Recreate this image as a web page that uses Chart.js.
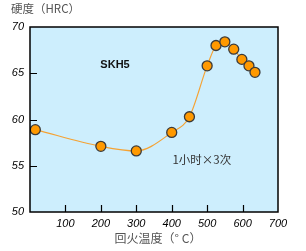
<!DOCTYPE html>
<html>
<head>
<meta charset="utf-8">
<script src="https://cdn.jsdelivr.net/npm/chart.js@4/dist/chart.umd.min.js"></script>
<style>
  html, body { margin: 0; padding: 0; background: #fff; }
  #chart { display: block; }
</style>
</head>
<body>
<canvas id="chart" width="306" height="251"></canvas>
<script>
// 回火温度 vs 硬度 (SKH5)
const temps = [15, 200, 300, 400, 450, 500, 525, 550, 575, 598, 618, 635];
const hardness = [58.9, 57.1, 56.6, 58.6, 60.3, 65.8, 68.0, 68.4, 67.6, 66.5, 65.8, 65.1];
const xTicks = [100, 200, 300, 400, 500, 600, 700];
const yTicks = [50, 55, 60, 65, 70];

// 外框、内向刻度、标题和注释
const decor = {
  id: 'decor',
  beforeDraw(chart) {
    const { ctx, chartArea: a } = chart;
    ctx.save();
    ctx.fillStyle = '#cdeefd';
    ctx.fillRect(a.left, a.top, a.right - a.left, a.bottom - a.top);
    ctx.restore();
  },
  afterDraw(chart) {
    const { ctx, chartArea: a, scales } = chart;
    ctx.save();
    ctx.strokeStyle = '#000';
    ctx.lineWidth = 1.5;
    ctx.strokeRect(a.left, a.top, a.right - a.left, a.bottom - a.top);
    ctx.lineWidth = 1.2;
    ctx.beginPath();
    xTicks.slice(0, -1).forEach(v => {
      const x = Math.round(scales.x.getPixelForValue(v)) + 0.5;
      ctx.moveTo(x, a.bottom);
      ctx.lineTo(x, a.bottom - 7);
    });
    yTicks.slice(1, -1).forEach(v => {
      const y = Math.round(scales.y.getPixelForValue(v)) + 0.5;
      ctx.moveTo(a.left, y);
      ctx.lineTo(a.left + 7, y);
    });
    ctx.stroke();

    ctx.fillStyle = '#555';
    ctx.font = '11.5px "Noto Sans CJK SC"';
    ctx.textBaseline = 'middle';
    ctx.textAlign = 'left';
    ctx.fillText('硬度（HRC）', 11, 9);
    ctx.textAlign = 'center';
    ctx.font = '12px "Noto Sans CJK SC"';
    ctx.fillText('回火温度（° C）', 158, 238);

    ctx.fillStyle = '#111';
    ctx.font = 'bold 11px "Liberation Sans"';
    ctx.fillText('SKH5', scales.x.getPixelForValue(240), scales.y.getPixelForValue(65.9));
    ctx.fillStyle = '#333';
    ctx.font = '11.5px "Noto Sans CJK SC"';
    ctx.fillText('1小时×3次', scales.x.getPixelForValue(485), scales.y.getPixelForValue(55.7));
    ctx.restore();
  }
};

new Chart(document.getElementById('chart'), {
  type: 'scatter',
  data: {
    datasets: [{
      data: temps.map((t, i) => ({ x: t, y: hardness[i] })),
      showLine: true,
      cubicInterpolationMode: 'monotone',
      borderColor: '#f5a233',
      borderWidth: 1.2,
      pointRadius: 5,
      pointBackgroundColor: '#ff9900',
      pointBorderColor: '#3a3a3a',
      pointBorderWidth: 1.3
    }]
  },
  options: {
    responsive: false,
    animation: false,
    devicePixelRatio: 1,
    layout: { padding: { top: 27, right: 28, left: 0, bottom: 0 } },
    plugins: { legend: { display: false }, tooltip: { enabled: false } },
    scales: {
      x: {
        type: 'linear',
        min: 0,
        max: 700,
        afterBuildTicks: s => { s.ticks = xTicks.map(v => ({ value: v })); },
        afterFit: s => { s.height = 39; },
        grid: { display: false, drawTicks: false },
        border: { display: false },
        ticks: {
          padding: 5,
          color: '#000',
          font: { family: 'Liberation Sans', size: 11, style: 'italic' },
          maxRotation: 0
        }
      },
      y: {
        min: 50,
        max: 70,
        afterBuildTicks: s => { s.ticks = yTicks.map(v => ({ value: v })); },
        afterFit: s => { s.width = 30; },
        grid: { display: false, drawTicks: false },
        border: { display: false },
        ticks: {
          padding: 6,
          color: '#000',
          font: { family: 'Liberation Sans', size: 11, style: 'italic' }
        }
      }
    }
  },
  plugins: [decor]
});
</script>
</body>
</html>
